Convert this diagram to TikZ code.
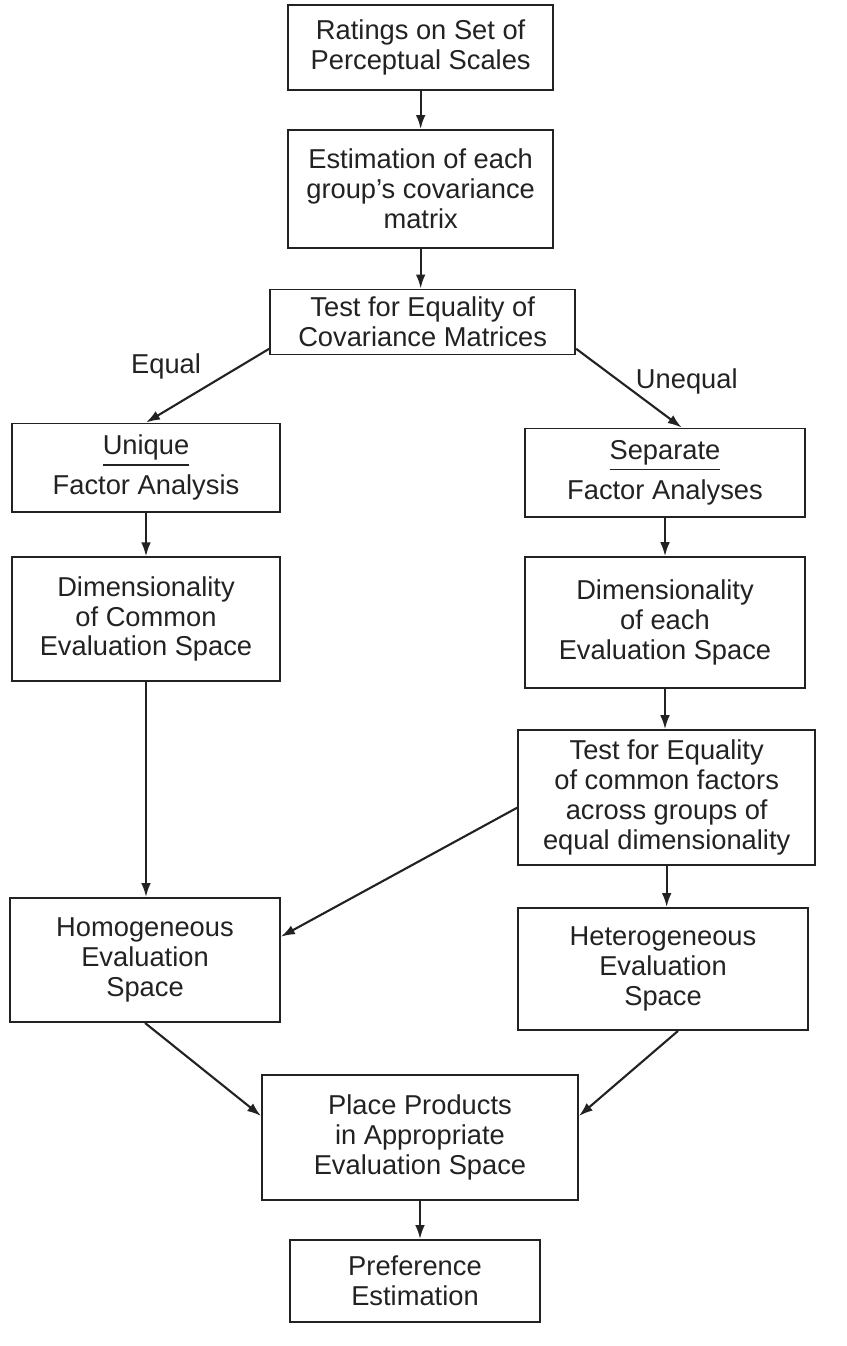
\documentclass[tikz,border=0pt]{standalone}
\usepackage{fontspec}
\setmainfont{Liberation Sans}
\usepackage{tikz}
\usetikzlibrary{arrows.meta, positioning, calc}
\definecolor{InkBlack}{HTML}{222222}
% word with a detached bar under it
\newcommand{\barword}[1]{\leavevmode\vtop{\hbox{#1}\kern3pt\hrule height 1.3pt}}
\tikzset{
  flowbox/.style={draw=InkBlack, line width=1.6pt, fill=white, align=center, inner sep=4pt, text=InkBlack, font=\fontsize{23.3pt}{25.5pt}\selectfont},
  arrow/.style={-{Latex[length=4.2mm, width=2.9mm]}, line width=1.8pt, draw=InkBlack},
  branchlabel/.style={font=\fontsize{23.3pt}{25.5pt}\selectfont, text=InkBlack}
}

\begin{document}
\begin{tikzpicture}
\useasboundingbox (0,0) rectangle (25.41,-40.38);

% centre column
\node[flowbox, minimum width=7.95cm, minimum height=2.55cm] (rat) at (12.62,-1.43)
  {Ratings on Set of\\Perceptual Scales};
\node[flowbox, minimum width=7.95cm, minimum height=3.54cm] (est) at (12.62,-5.67)
  {Estimation of each\\group's covariance\\matrix};
\node[flowbox, minimum width=9.15cm, minimum height=1.95cm] (test) at (12.68,-9.66)
  {Test for Equality of\\Covariance Matrices};

% left branch
\node[flowbox, minimum width=8.04cm, minimum height=2.65cm] (uniq) at (4.38,-14.03)
  {\barword{Unique}\\[7pt]Factor Analysis};
\node[flowbox, minimum width=8.04cm, minimum height=3.7cm] (dimc) at (4.38,-18.57)
  {Dimensionality\\of Common\\Evaluation Space};
\node[flowbox, minimum width=8.1cm, minimum height=3.72cm] (hom) at (4.35,-28.8)
  {Homogeneous\\Evaluation\\Space};

% right branch
\node[flowbox, minimum width=8.4cm, minimum height=2.65cm] (sep) at (19.95,-14.18)
  {\barword{Separate}\\[7pt]Factor Analyses};
\node[flowbox, minimum width=8.4cm, minimum height=3.93cm] (dime) at (19.95,-18.68)
  {Dimensionality\\of each\\Evaluation Space};
\node[flowbox, minimum width=8.91cm, minimum height=4.05cm] (testf) at (20.0,-23.93)
  {Test for Equality\\of common factors\\across groups of\\equal dimensionality};
\node[flowbox, minimum width=8.7cm, minimum height=3.66cm] (het) at (19.89,-29.07)
  {Heterogeneous\\Evaluation\\Space};

% bottom
\node[flowbox, minimum width=9.48cm, minimum height=3.75cm] (place) at (12.6,-34.13)
  {Place Products\\in Appropriate\\Evaluation Space};
\node[flowbox, minimum width=7.5cm, minimum height=2.46cm] (pref) at (12.45,-38.43)
  {Preference\\Estimation};

\draw[arrow] (rat.south) -- (est.north);
\draw[arrow] (est.south) -- (est.south |- test.north);
\draw[arrow] ($(test.south west)+(0,0.2)$) -- node[branchlabel, pos=0.5, above left=2pt] {Equal} (uniq.north);
\draw[arrow] ($(test.south east)+(0,0.2)$) -- node[branchlabel, pos=0.42, anchor=west, xshift=9pt] {Unequal} ($(sep.north)+(0.5,0)$);
\draw[arrow] (uniq.south) -- (dimc.north);
\draw[arrow] (dimc.south) -- (dimc.south |- hom.north);
\draw[arrow] (sep.south) -- (dime.north);
\draw[arrow] (dime.south) -- (dime.south |- testf.north);
\draw[arrow] (testf.south) -- (testf.south |- het.north);
\draw[arrow] ($(testf.west)+(0,-0.3)$) -- ($(hom.east)+(0,0.7)$);
\draw[arrow] (hom.south) -- ($(place.west)+(0,0.65)$);
\draw[arrow] ($(het.south)+(0.45,0)$) -- ($(place.east)+(0,0.65)$);
\draw[arrow] (place.south) -- (place.south |- pref.north);
\end{tikzpicture}
\end{document}
